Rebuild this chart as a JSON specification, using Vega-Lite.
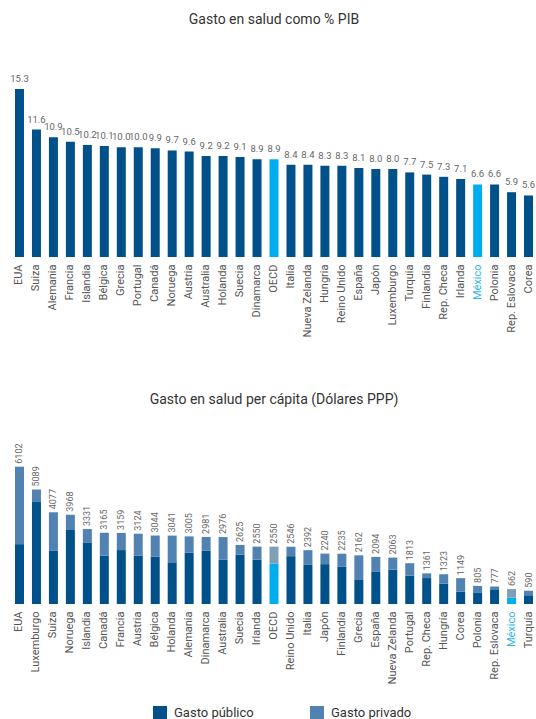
{
  "$schema": "https://vega.github.io/schema/vega-lite/v6.json",
  "padding": {"left": 10, "top": 13, "right": 0, "bottom": 0},
  "background": "white",
  "config": {
    "font": "Roboto",
    "view": {"stroke": null},
    "title": {"fontSize": 14, "fontWeight": "normal", "color": "#333333", "anchor": "middle"},
    "axisX": {"domain": false, "ticks": false, "labelAngle": -90, "labelPadding": 7, "labelFontSize": 11, "title": null, "grid": false},
    "axisY": {"grid": false}
  },
  "spacing": 56,
  "vconcat": [
    {
      "title": {"text": "Gasto en salud como % PIB", "offset": 7},
      "width": 526,
      "height": 223,
      "data": {"values": [
        {"pais": "EUA", "pib": 15.3},
        {"pais": "Suiza", "pib": 11.6},
        {"pais": "Alemania", "pib": 10.9},
        {"pais": "Francia", "pib": 10.5},
        {"pais": "Islandia", "pib": 10.2},
        {"pais": "Bélgica", "pib": 10.1},
        {"pais": "Grecia", "pib": 10.0},
        {"pais": "Portugal", "pib": 10.0},
        {"pais": "Canadá", "pib": 9.9},
        {"pais": "Noruega", "pib": 9.7},
        {"pais": "Austria", "pib": 9.6},
        {"pais": "Australia", "pib": 9.2},
        {"pais": "Holanda", "pib": 9.2},
        {"pais": "Suecia", "pib": 9.1},
        {"pais": "Dinamarca", "pib": 8.9},
        {"pais": "OECD", "pib": 8.9},
        {"pais": "Italia", "pib": 8.4},
        {"pais": "Nueva Zelanda", "pib": 8.4},
        {"pais": "Hungria", "pib": 8.3},
        {"pais": "Reino Unido", "pib": 8.3},
        {"pais": "España", "pib": 8.1},
        {"pais": "Japón", "pib": 8.0},
        {"pais": "Luxemburgo", "pib": 8.0},
        {"pais": "Turquia", "pib": 7.7},
        {"pais": "Finlandia", "pib": 7.5},
        {"pais": "Rep. Checa", "pib": 7.3},
        {"pais": "Irlanda", "pib": 7.1},
        {"pais": "México", "pib": 6.6},
        {"pais": "Polonia", "pib": 6.6},
        {"pais": "Rep. Eslovaca", "pib": 5.9},
        {"pais": "Corea", "pib": 5.6}
      ]},
      "encoding": {
        "x": {"field": "pais", "type": "nominal", "sort": null,
              "scale": {"paddingInner": 0.47, "paddingOuter": 0.235},
              "axis": {"labelColor": {"condition": {"test": "datum.value === 'México'", "value": "#2db4e9"}, "value": "#555555"}}},
        "y": {"field": "pib", "type": "quantitative", "scale": {"domain": [0, 20.3]}, "axis": null}
      },
      "layer": [
        {"mark": {"type": "bar"},
         "encoding": {"color": {"condition": {"test": "datum.pais === 'OECD' || datum.pais === 'México'", "value": "#00aeef"}, "value": "#00508a"}}},
        {"mark": {"type": "text", "baseline": "bottom", "dy": -5, "fontSize": 9.5, "color": "#666666"},
         "encoding": {"text": {"field": "pib", "type": "quantitative", "format": ".1f"}}}
      ]
    },
    {
      "title": {"text": "Gasto en salud per cápita (Dólares PPP)", "offset": 17},
      "width": 526,
      "height": 180,
      "data": {"values": [
        {"pais": "EUA", "tipo": "Gasto público", "valor": 2660},
        {"pais": "EUA", "tipo": "Gasto privado", "valor": 3442},
        {"pais": "Luxemburgo", "tipo": "Gasto público", "valor": 4529},
        {"pais": "Luxemburgo", "tipo": "Gasto privado", "valor": 560},
        {"pais": "Suiza", "tipo": "Gasto público", "valor": 2361},
        {"pais": "Suiza", "tipo": "Gasto privado", "valor": 1716},
        {"pais": "Noruega", "tipo": "Gasto público", "valor": 3290},
        {"pais": "Noruega", "tipo": "Gasto privado", "valor": 678},
        {"pais": "Islandia", "tipo": "Gasto público", "valor": 2738},
        {"pais": "Islandia", "tipo": "Gasto privado", "valor": 593},
        {"pais": "Canadá", "tipo": "Gasto público", "valor": 2148},
        {"pais": "Canadá", "tipo": "Gasto privado", "valor": 1017},
        {"pais": "Francia", "tipo": "Gasto público", "valor": 2397},
        {"pais": "Francia", "tipo": "Gasto privado", "valor": 762},
        {"pais": "Austria", "tipo": "Gasto público", "valor": 2149},
        {"pais": "Austria", "tipo": "Gasto privado", "valor": 975},
        {"pais": "Bélgica", "tipo": "Gasto público", "valor": 2110},
        {"pais": "Bélgica", "tipo": "Gasto privado", "valor": 934},
        {"pais": "Holanda", "tipo": "Gasto público", "valor": 1853},
        {"pais": "Holanda", "tipo": "Gasto privado", "valor": 1188},
        {"pais": "Alemania", "tipo": "Gasto público", "valor": 2282},
        {"pais": "Alemania", "tipo": "Gasto privado", "valor": 723},
        {"pais": "Dinamarca", "tipo": "Gasto público", "valor": 2364},
        {"pais": "Dinamarca", "tipo": "Gasto privado", "valor": 617},
        {"pais": "Australia", "tipo": "Gasto público", "valor": 1964},
        {"pais": "Australia", "tipo": "Gasto privado", "valor": 1012},
        {"pais": "Suecia", "tipo": "Gasto público", "valor": 2192},
        {"pais": "Suecia", "tipo": "Gasto privado", "valor": 433},
        {"pais": "Irlanda", "tipo": "Gasto público", "valor": 1971},
        {"pais": "Irlanda", "tipo": "Gasto privado", "valor": 579},
        {"pais": "OECD", "tipo": "Gasto público", "valor": 1793},
        {"pais": "OECD", "tipo": "Gasto privado", "valor": 757},
        {"pais": "Reino Unido", "tipo": "Gasto público", "valor": 2126},
        {"pais": "Reino Unido", "tipo": "Gasto privado", "valor": 420},
        {"pais": "Italia", "tipo": "Gasto público", "valor": 1758},
        {"pais": "Italia", "tipo": "Gasto privado", "valor": 634},
        {"pais": "Japón", "tipo": "Gasto público", "valor": 1772},
        {"pais": "Japón", "tipo": "Gasto privado", "valor": 468},
        {"pais": "Finlandia", "tipo": "Gasto público", "valor": 1652},
        {"pais": "Finlandia", "tipo": "Gasto privado", "valor": 583},
        {"pais": "Grecia", "tipo": "Gasto público", "valor": 1096},
        {"pais": "Grecia", "tipo": "Gasto privado", "valor": 1066},
        {"pais": "España", "tipo": "Gasto público", "valor": 1449},
        {"pais": "España", "tipo": "Gasto privado", "valor": 645},
        {"pais": "Nueva Zelanda", "tipo": "Gasto público", "valor": 1523},
        {"pais": "Nueva Zelanda", "tipo": "Gasto privado", "valor": 540},
        {"pais": "Portugal", "tipo": "Gasto público", "valor": 1260},
        {"pais": "Portugal", "tipo": "Gasto privado", "valor": 553},
        {"pais": "Rep. Checa", "tipo": "Gasto público", "valor": 1153},
        {"pais": "Rep. Checa", "tipo": "Gasto privado", "valor": 208},
        {"pais": "Hungría", "tipo": "Gasto público", "valor": 905},
        {"pais": "Hungría", "tipo": "Gasto privado", "valor": 418},
        {"pais": "Corea", "tipo": "Gasto público", "valor": 546},
        {"pais": "Corea", "tipo": "Gasto privado", "valor": 603},
        {"pais": "Polonia", "tipo": "Gasto público", "valor": 518},
        {"pais": "Polonia", "tipo": "Gasto privado", "valor": 287},
        {"pais": "Rep. Eslovaca", "tipo": "Gasto público", "valor": 653},
        {"pais": "Rep. Eslovaca", "tipo": "Gasto privado", "valor": 124},
        {"pais": "México", "tipo": "Gasto público", "valor": 285},
        {"pais": "México", "tipo": "Gasto privado", "valor": 377},
        {"pais": "Turquía", "tipo": "Gasto público", "valor": 389},
        {"pais": "Turquía", "tipo": "Gasto privado", "valor": 201}
      ]},
      "encoding": {
        "x": {"field": "pais", "type": "nominal", "sort": null,
              "scale": {"paddingInner": 0.47, "paddingOuter": 0.235},
              "axis": {"labelColor": {"condition": {"test": "datum.value === 'México'", "value": "#2db4e9"}, "value": "#555555"}}}
      },
      "layer": [
        {"mark": {"type": "bar"},
         "encoding": {
           "y": {"field": "valor", "type": "quantitative", "aggregate": "sum", "stack": "zero", "scale": {"domain": [0, 7740]}, "axis": null},
           "order": {"field": "tipo", "type": "nominal", "sort": "descending"},
           "color": {
             "field": "tipo", "type": "nominal",
             "scale": {"domain": ["Gasto público", "Gasto privado"], "range": ["#00508a", "#5282b2"]},
             "legend": {"title": null, "orient": "none", "legendX": 142, "legendY": 672, "direction": "horizontal", "symbolType": "square", "symbolSize": 196, "symbolStrokeWidth": 0, "labelFontSize": 13, "labelColor": "#333333", "columnPadding": 56, "labelOffset": 7},
             "condition": [
               {"test": "(datum.pais === 'OECD' || datum.pais === 'México') && datum.tipo === 'Gasto público'", "value": "#00aeef"},
               {"test": "datum.pais === 'OECD' || datum.pais === 'México'", "value": "#7ea0b6"}
             ]
           }
         }},
        {"mark": {"type": "text", "angle": 270, "align": "left", "baseline": "middle", "dx": 3, "fontSize": 9, "color": "#666666"},
         "encoding": {
           "y": {"field": "valor", "type": "quantitative", "aggregate": "sum"},
           "text": {"field": "valor", "type": "quantitative", "aggregate": "sum", "format": "d"}
         }}
      ]
    }
  ]
}
